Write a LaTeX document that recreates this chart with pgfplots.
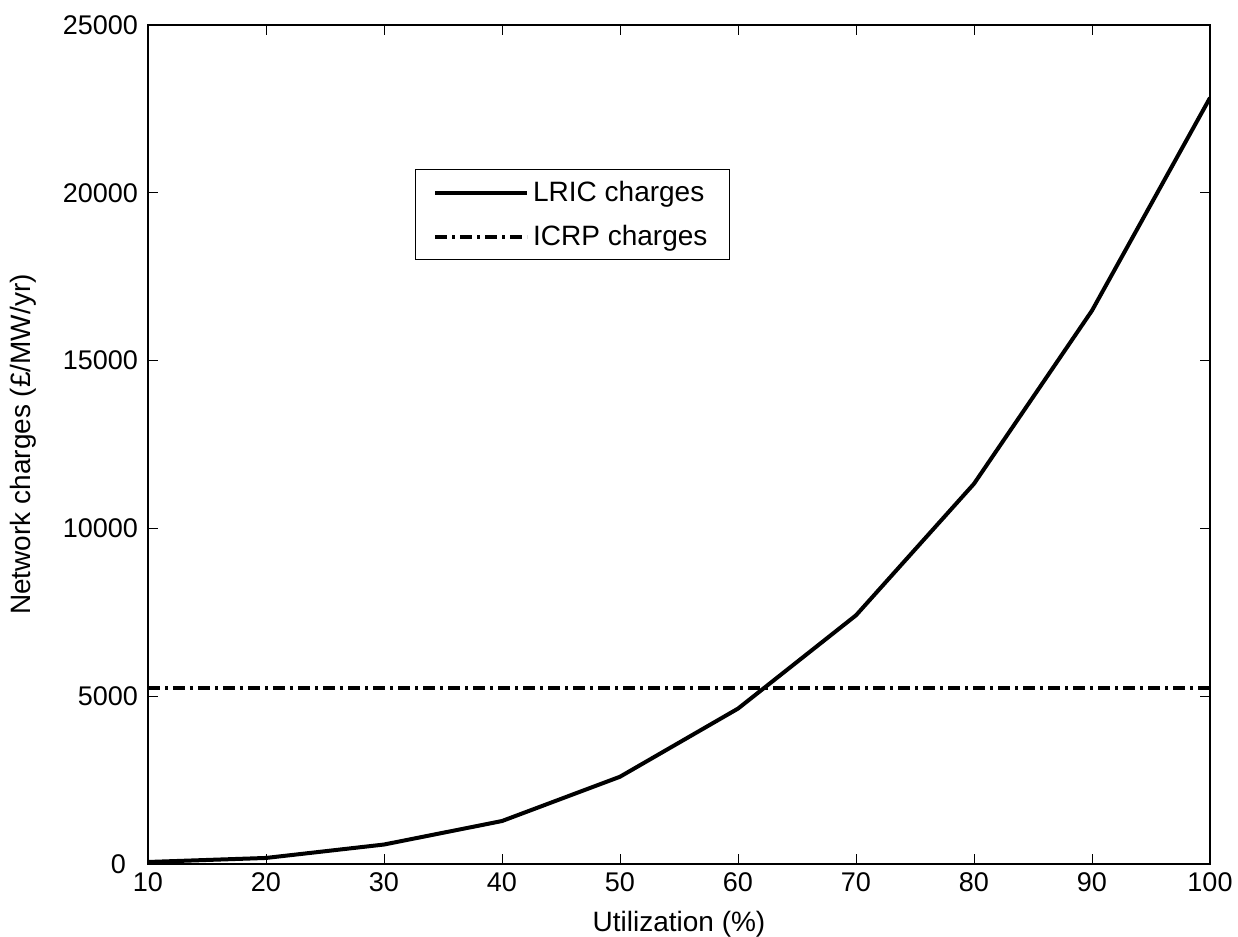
\documentclass[border=0pt]{standalone}
\usepackage{fontspec}
\setmainfont{Liberation Sans}
\usepackage{pgfplots}
\pgfplotsset{compat=1.18}
\newcommand{\fs}{\fontsize{14}{17}\selectfont}
\newcommand{\ft}{\fontsize{13.5}{16}\selectfont}
\begin{document}
\begin{tikzpicture}
\path[use as bounding box] (-74pt,-36.5pt) rectangle (545pt,432pt);
\begin{axis}[
  scale only axis,
  width=531pt, height=419.5pt,
  xmin=10, xmax=100, ymin=0, ymax=25000,
  xtick={10,20,...,100},
  ytick={5000,10000,15000,20000,25000},
  extra y ticks={0},
  extra y tick style={yticklabel style={xshift=-6pt}},
  scaled y ticks=false,
  /pgf/number format/1000 sep={},
  /pgf/number format/assume math mode=true,
  tick align=inside,
  major tick length=5pt,
  tick style={black, line width=0.4pt},
  axis line style={line width=0.6pt},
  tick label style={font=\ft},
  xticklabel style={yshift=-1pt},
  yticklabel style={xshift=-1.5pt},
  label style={font=\fs},
  xlabel={Utilization (\%)},
  ylabel={Network charges (£/MW/yr)},
  xlabel style={at={(axis description cs:0.5,-0.0799)}, anchor=base},
  ylabel style={at={(axis description cs:-0.1177,0.5)}, anchor=center},
  legend style={font=\fs, at={(0.251,0.828)}, anchor=north west, draw=black, line width=0.6pt,
    inner xsep=9pt, inner ysep=3.5pt, row sep=6.5pt},
  legend cell align=left,
  legend image code/.code={\draw[#1] (0pt,0pt) -- (46pt,0pt);},
]
\addplot[black, line width=2pt, line join=round] coordinates {
 (10,60) (20,180) (30,580) (40,1280) (50,2600) (60,4630)
 (70,7410) (80,11330) (90,16490) (100,22830)
};
\addlegendentry{LRIC charges}
\addplot[black, line width=2pt, dash pattern=on 6pt off 2.5pt on 1.5pt off 2.5pt] coordinates {
 (10,5250) (100,5250)
};
\addlegendentry{ICRP charges}
\end{axis}
\end{tikzpicture}
\end{document}
